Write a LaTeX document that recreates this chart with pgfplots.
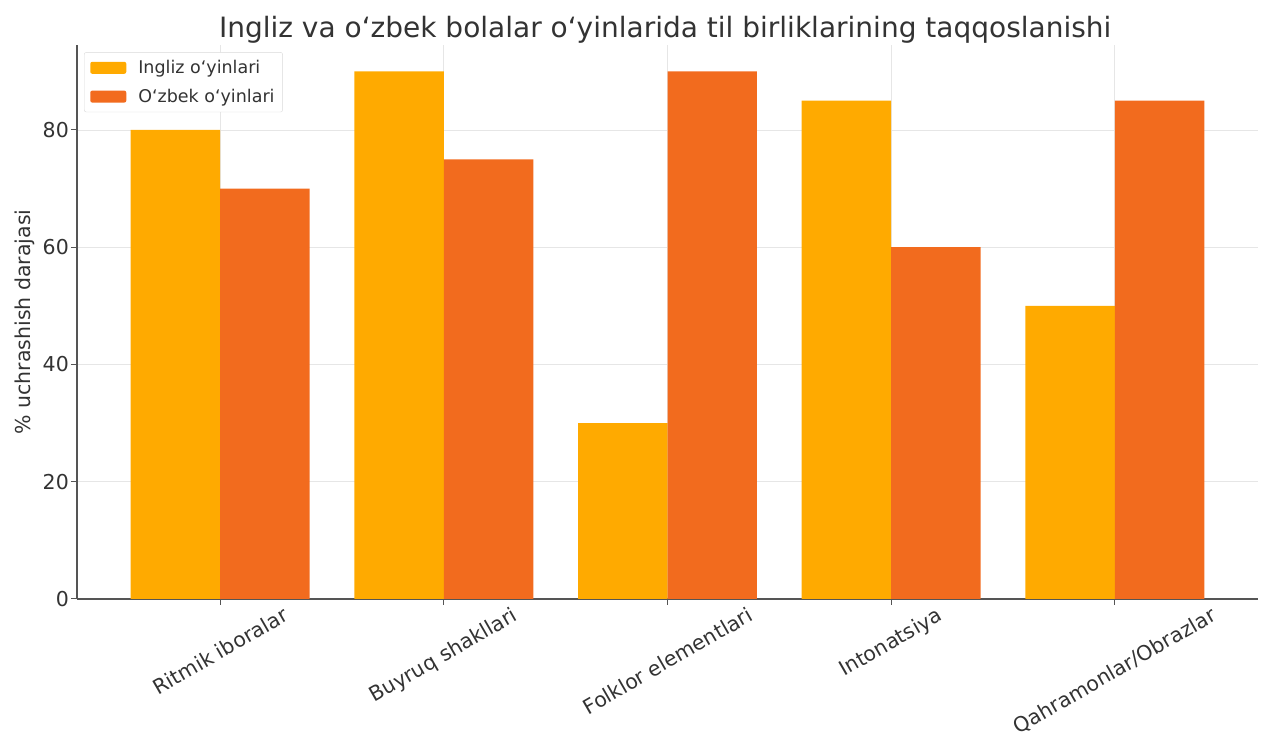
\documentclass[border=0pt]{standalone}
\usepackage{pgfplots}
\pgfplotsset{compat=1.18}
\usepackage{fontspec}
\setmainfont{DejaVu Sans}
\definecolor{cIng}{HTML}{FFAA00}
\definecolor{cUzb}{HTML}{F26B1E}
\definecolor{gridc}{HTML}{E6E6E6}
\definecolor{axc}{HTML}{555555}
\begin{document}
\begin{tikzpicture}
\useasboundingbox (-77pt,-139pt) rectangle (1185pt,599pt);
\begin{axis}[
  at={(0,0)}, anchor=south west,
  scale only axis, width=1181pt, height=554pt,
  xmin=-0.64, xmax=4.64, ymin=0, ymax=94.5,
  axis x line*=bottom, axis y line*=left,
  axis line style={axc, line width=1.4pt},
  xtick={0,1,2,3,4},
  xticklabels={\rotatebox{30}{Ritmik iboralar},\rotatebox{30}{Buyruq shakllari},\rotatebox{30}{Folklor elementlari},\rotatebox{30}{Intonatsiya},\rotatebox{30}{Qahramonlar/Obrazlar}},
  xticklabel style={anchor=north, font=\fontsize{20.5}{24}\selectfont, text=black!80, inner sep=1pt},
  ytick={0,20,40,60,80},
  yticklabel style={font=\fontsize{20.5}{24}\selectfont, text=black!80, inner sep=2pt},
  /pgf/number format/assume math mode=true,
  tick align=outside, major tick length=6pt,
  tick style={axc, line width=1pt},
  grid=major, major grid style={gridc, line width=0.8pt},
  ylabel={\% uchrashish darajasi},
  ylabel style={font=\fontsize{20.5}{24}\selectfont, text=black!80},
  every axis y label/.append style={at={(ticklabel cs:0.5)}, anchor=south, yshift=2pt},
  legend style={at={(0.006,0.987)}, anchor=north west, font=\fontsize{17.5}{22}\selectfont, draw=black!15, rounded corners=2pt, text=black!80, inner sep=6pt, row sep=10pt, column sep=10pt},
  legend cell align=left,
  legend image code/.code={\fill[#1] (0pt,-6pt) rectangle (36pt,6pt);},
  clip=false,
]
\addplot[ybar, bar width=0.4, bar shift=-0.2, fill=cIng, draw=none] coordinates {(0,80) (1,90) (2,30) (3,85) (4,50)};
\addlegendentry{Ingliz oʻyinlari}
\addplot[ybar, bar width=0.4, bar shift=0.2, fill=cUzb, draw=none] coordinates {(0,70) (1,75) (2,90) (3,60) (4,85)};
\addlegendentry{Oʻzbek oʻyinlari}
\node[font=\fontsize{28}{32}\selectfont, text=black!80, anchor=base] at (rel axis cs:0.498,1) [yshift=7pt] {Ingliz va oʻzbek bolalar oʻyinlarida til birliklarining taqqoslanishi};
\end{axis}
\end{tikzpicture}
\end{document}
